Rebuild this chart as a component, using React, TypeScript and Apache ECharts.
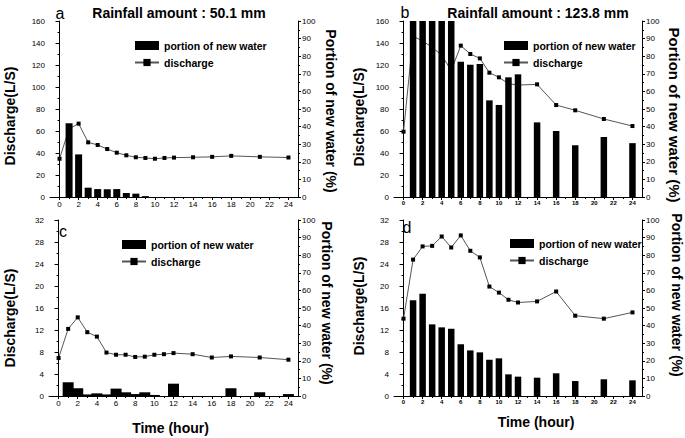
import React, { useEffect, useRef } from "react";
import * as echarts from "echarts";

const FONT = "'Liberation Sans', Arial, Helvetica, sans-serif";

// sampling times (hour)
const hours = [0, 1, 2, 3, 4, 5, 6, 7, 8, 9, 10, 11, 12, 14, 16, 18, 21, 24];

// panel a — Rainfall 50.1 mm
const dischargeA = [34.8, 62, 66.7, 49.7, 47.3, 43.6, 40.3, 37.9, 36.1, 35.5, 34.8, 35.5, 35.8, 36.1, 36.5, 37.4, 36.5, 35.9];
const newWaterA = [null, 41.9, 24.2, 5.3, 4.5, 4.4, 4.5, 2.3, 1.9, 0.5, null, null, null, null, null, null, null, null];

// panel b — Rainfall 123.8 mm
const dischargeB = [59.4, 146, 142, 136, 129, 115, 137.6, 130, 126, 113, 108.8, 103, 101.8, 102.4, 83.6, 78.8, 70.9, 64.5];
const newWaterB = [null, 100, 100, 100, 100, 100, 76.9, 75.2, 75.6, 54.9, 52.3, 68, 69.7, 42.4, 37.5, 29.4, 34.1, 30.6];

// panel c
const dischargeC = [6.9, 12.2, 14.3, 11.6, 10.8, 7.9, 7.5, 7.5, 7.1, 7.15, 7.5, 7.6, 7.8, 7.6, 7.0, 7.2, 7.0, 6.6];
const newWaterC = [null, 7.8, 4.4, 0.9, 1.5, 0.9, 4.2, 2.1, 1.1, 2.1, 0.6, null, 7.0, null, null, 4.4, 2.1, 1.1];

// panel d
const dischargeD = [14.06, 24.8, 27.2, 27.3, 29.0, 27.0, 29.2, 26.4, 25.2, 19.9, 18.8, 17.5, 17.0, 17.2, 19.0, 14.6, 14.06, 15.2];
const newWaterD = [null, 54.4, 58.1, 40.7, 39.0, 38.2, 29.4, 25.9, 24.8, 20.6, 21.4, 12.3, 11.0, 10.4, 12.9, 8.5, 9.5, 8.9];

const titles = ["Rainfall amount : 50.1 mm", "Rainfall amount : 123.8 mm"];
const letters = ["a", "b", "c", "d"];
const seriesNames = ["portion of new water", "discharge"];
const leftAxisName = "Discharge(L/S)";
const rightAxisName = "Portion of new water (%)";
const xAxisName = "Time (hour)";

const panels = [
  {
    discharge: dischargeA, newWater: newWaterA, leftMax: 160, leftInterval: 20,
    box: { left: 50, top: 21, width: 248, height: 176 },
    barWidth: 7, xFont: 8, xBold: "normal", leftGap: 33, rightGap: 26, showX: false, xGap: 25,
    leftPad: [0, 14, 0, 0], rightPad: [0, 0, 0, 4], rightFont: 14, xPad: [0, 6, 0, 0],
    legend: { left: 129, top: 35 }, letter: { x: 60, y: 13 }, title: { x: 179, y: 13 },
  },
  {
    discharge: dischargeB, newWater: newWaterB, leftMax: 160, leftInterval: 20,
    box: { left: 394, top: 21, width: 248, height: 176 },
    barWidth: 6.5, xFont: 6, xBold: "bold", leftGap: 28, rightGap: 25, showX: false, xGap: 25,
    leftPad: [0, 16, 0, 0], rightPad: [0, 0, 0, 12], rightFont: 15, xPad: [0, 6, 0, 0],
    legend: { left: 498, top: 35 }, letter: { x: 405, y: 12 }, title: { x: 538, y: 13 },
  },
  {
    discharge: dischargeC, newWater: newWaterC, leftMax: 32, leftInterval: 4,
    box: { left: 49, top: 220, width: 249, height: 176 },
    barWidth: 11, xFont: 8, xBold: "normal", leftGap: 32, rightGap: 22, showX: true, xGap: 25,
    leftPad: [0, 20, 0, 0], rightPad: [0, 10, 0, 0], rightFont: 14, xPad: [0, 6, 0, 0],
    legend: { left: 116, top: 234 }, letter: { x: 63, y: 231 }, title: null,
  },
  {
    discharge: dischargeD, newWater: newWaterD, leftMax: 32, leftInterval: 4,
    box: { left: 394, top: 220, width: 248, height: 176 },
    barWidth: 6.5, xFont: 6, xBold: "bold", leftGap: 28, rightGap: 28, showX: true, xGap: 19,
    leftPad: [0, 0, 0, 4], rightPad: [0, 26, 0, 0], rightFont: 14, xPad: [0, 0, 0, 36],
    legend: { left: 504, top: 233 }, letter: { x: 407, y: 227 }, title: null,
  },
];

function buildOption() {
  const grid: any[] = [];
  const xAxis: any[] = [];
  const yAxis: any[] = [];
  const series: any[] = [];
  const legend: any[] = [];
  const graphic: any[] = [];

  const axisLine = { show: true, lineStyle: { color: "#000", width: 1 } };

  panels.forEach((p, i) => {
    const unit = p.box.width / 26;
    grid.push({ left: p.box.left, top: p.box.top, width: p.box.width, height: p.box.height });
    grid.push({ left: p.box.left + unit, top: p.box.top, width: unit * 24, height: p.box.height });

    xAxis.push({
      type: "value", gridIndex: 2 * i, min: -1, max: 25,
      axisLine, axisTick: { show: false }, axisLabel: { show: false }, splitLine: { show: false },
    });
    xAxis.push({
      type: "value", gridIndex: 2 * i + 1, min: 0, max: 24, interval: 2,
      axisLine: { show: false },
      axisTick: { show: true, length: 3, lineStyle: { color: "#000" } },
      minorTick: { show: true, splitNumber: 2, length: 2, lineStyle: { color: "#000" } },
      axisLabel: { fontSize: p.xFont, fontWeight: p.xBold, color: "#000", fontFamily: FONT, margin: 3 },
      splitLine: { show: false },
      name: p.showX ? xAxisName : "",
      nameLocation: "middle",
      nameGap: p.xGap,
      nameTextStyle: {
        fontSize: 14, fontWeight: "bold", color: "#000", fontFamily: FONT, padding: p.xPad,
      },
    });

    yAxis.push({
      type: "value", gridIndex: 2 * i, position: "left", min: 0, max: p.leftMax, interval: p.leftInterval,
      axisLine,
      axisTick: { show: true, length: 4, lineStyle: { color: "#000" } },
      minorTick: { show: true, splitNumber: 2, length: 2, lineStyle: { color: "#000" } },
      axisLabel: { fontSize: 8, color: "#000", fontFamily: FONT, margin: 5 },
      splitLine: { show: false },
      name: leftAxisName, nameLocation: "middle", nameGap: p.leftGap,
      nameTextStyle: { fontSize: 14, fontWeight: "bold", color: "#000", fontFamily: FONT, padding: p.leftPad },
    });
    yAxis.push({
      type: "value", gridIndex: 2 * i, position: "right", min: 0, max: 100, interval: 10,
      axisLine,
      axisTick: { show: true, length: 3, lineStyle: { color: "#000" } },
      minorTick: { show: true, splitNumber: 2, length: 2, lineStyle: { color: "#000" } },
      axisLabel: { fontSize: 8, color: "#000", fontFamily: FONT, margin: 4 },
      splitLine: { show: false },
      name: rightAxisName, nameLocation: "middle", nameGap: p.rightGap, nameRotate: -90,
      nameTextStyle: { fontSize: p.rightFont, fontWeight: "bold", color: "#000", fontFamily: FONT, padding: p.rightPad },
    });
    yAxis.push({ type: "value", gridIndex: 2 * i + 1, min: 0, max: 1, show: false });

    series.push({
      type: "line", name: seriesNames[1], xAxisIndex: 2 * i, yAxisIndex: 3 * i,
      data: hours.map((h, k) => [h, p.discharge[k]]),
      symbol: "rect", symbolSize: 4,
      itemStyle: { color: "#000" },
      lineStyle: { color: "#555", width: 1 },
      z: 2,
    });
    series.push({
      type: "bar", name: seriesNames[0], xAxisIndex: 2 * i, yAxisIndex: 3 * i + 1,
      data: hours.map((h, k) => [h, p.newWater[k]]).filter((d) => d[1] !== null),
      barWidth: p.barWidth,
      itemStyle: { color: "#000" },
      z: 3,
    });

    legend.push({
      left: p.legend.left, top: p.legend.top, orient: "vertical",
      itemWidth: 24, itemHeight: 9, itemGap: 6, selectedMode: false,
      data: [{ name: seriesNames[0], icon: "rect" }, { name: seriesNames[1] }],
      textStyle: { fontSize: 10.5, fontWeight: "bold", color: "#000", fontFamily: FONT },
    });

    graphic.push({
      type: "text", x: p.letter.x, y: p.letter.y,
      style: { text: letters[i], font: `16px ${FONT}`, fill: "#000", textAlign: "center", textVerticalAlign: "middle" },
    });
    if (p.title) {
      graphic.push({
        type: "text", x: p.title.x, y: p.title.y,
        style: { text: titles[i], font: `bold 14px ${FONT}`, fill: "#000", textAlign: "center", textVerticalAlign: "middle" },
      });
    }
  });

  return { animation: false, backgroundColor: "#fff", grid, xAxis, yAxis, series, legend, graphic };
}

export default function App() {
  const ref = useRef<HTMLDivElement>(null);
  useEffect(() => {
    if (!ref.current) return;
    const chart = echarts.init(ref.current, undefined, { renderer: "svg" });
    chart.setOption(buildOption() as any);
    return () => chart.dispose();
  }, []);
  return (
    <div
      ref={ref}
      style={{ position: "fixed", left: 0, top: 0, width: 685, height: 438, background: "#fff" }}
    />
  );
}
